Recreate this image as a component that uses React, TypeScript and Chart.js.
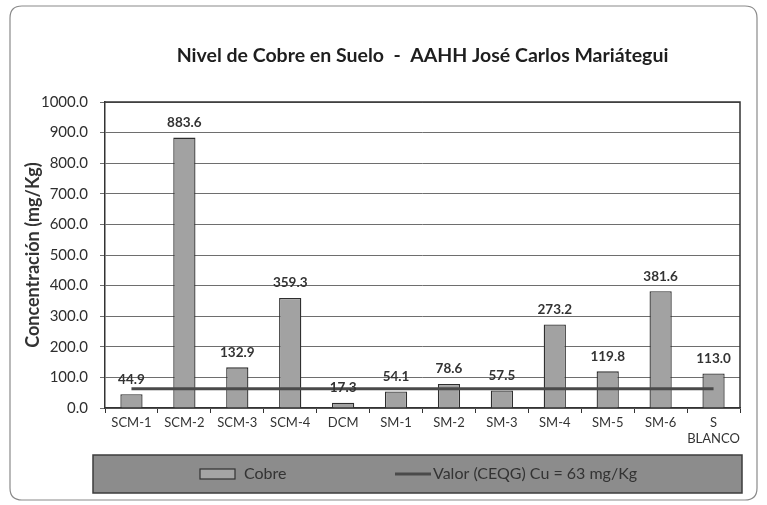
import React, { useEffect, useRef } from "react";
import { Chart, registerables } from "chart.js";

Chart.register(...registerables);

const title = "Nivel de Cobre en Suelo  -  AAHH José Carlos Mariátegui";
const categories: (string | string[])[] = [
  "SCM-1", "SCM-2", "SCM-3", "SCM-4", "DCM", "SM-1", "SM-2", "SM-3", "SM-4", "SM-5", "SM-6", ["S", "BLANCO"],
];
const cobre = [44.9, 883.6, 132.9, 359.3, 17.3, 54.1, 78.6, 57.5, 273.2, 119.8, 381.6, 113.0];
const ceqg = [63, 63, 63, 63, 63, 63, 63, 63, 63, 63, 63, 63];
const yTicks = [0, 100, 200, 300, 400, 500, 600, 700, 800, 900, 1000];

const FONT = "Lato, 'Open Sans', sans-serif";

const framePlugin = {
  id: "frame",
  beforeDraw(chart: any) {
    const ctx = chart.ctx;
    ctx.save();
    ctx.fillStyle = "#ffffff";
    ctx.fillRect(0, 0, chart.width, chart.height);
    ctx.strokeStyle = "#8a8a8a";
    ctx.lineWidth = 1.2;
    const x = 10, y = 6, w = 747, h = 494, r = 12;
    ctx.beginPath();
    ctx.moveTo(x + r, y);
    ctx.lineTo(x + w - r, y);
    ctx.quadraticCurveTo(x + w, y, x + w, y + r);
    ctx.lineTo(x + w, y + h - r);
    ctx.quadraticCurveTo(x + w, y + h, x + w - r, y + h);
    ctx.lineTo(x + r, y + h);
    ctx.quadraticCurveTo(x, y + h, x, y + h - r);
    ctx.lineTo(x, y + r);
    ctx.quadraticCurveTo(x, y, x + r, y);
    ctx.stroke();
    ctx.restore();
  },
  afterDraw(chart: any) {
    const ctx = chart.ctx;
    const ca = chart.chartArea;
    ctx.save();
    ctx.strokeStyle = "#333333";
    ctx.lineWidth = 1.5;
    ctx.beginPath();
    ctx.moveTo(ca.left, ca.top);
    ctx.lineTo(ca.right, ca.top);
    ctx.lineTo(ca.right, ca.bottom);
    ctx.stroke();

    // title centred over the plot area
    ctx.font = `bold 19.5px ${FONT}`;
    ctx.fillStyle = "#1e1e1e";
    ctx.textAlign = "center";
    ctx.textBaseline = "alphabetic";
    ctx.fillText(title, (ca.left + ca.right) / 2, 62);

    // custom legend
    const lx = ca.left - 12, lw = ca.right + 2 - lx;
    const ly = chart.height - 50, lh = 38;
    ctx.fillStyle = "#8c8c8c";
    ctx.fillRect(lx, ly, lw, lh);
    ctx.strokeStyle = "#3c3c3c";
    ctx.lineWidth = 1.5;
    ctx.strokeRect(lx, ly, lw, lh);

    const cy = ly + lh / 2;
    const ds = chart.data.datasets;
    ctx.font = `16px ${FONT}`;
    ctx.textBaseline = "middle";
    ctx.textAlign = "left";
    ctx.fillStyle = "#a4a4a4";
    ctx.fillRect(200, cy - 5, 35, 10);
    ctx.strokeStyle = "#333333";
    ctx.lineWidth = 1.2;
    ctx.strokeRect(200, cy - 5, 35, 10);
    ctx.fillStyle = "#333333";
    ctx.fillText(ds[0].label, 244, cy);
    ctx.strokeStyle = "#4a4a4a";
    ctx.lineWidth = 3;
    ctx.beginPath();
    ctx.moveTo(395, cy);
    ctx.lineTo(431, cy);
    ctx.stroke();
    ctx.fillText(ds[1].label, 433, cy);
    ctx.restore();
  },
};

const labelPlugin = {
  id: "barLabels",
  afterDatasetsDraw(chart: any) {
    const ctx = chart.ctx;
    const meta = chart.getDatasetMeta(0);
    ctx.save();
    ctx.font = `bold 13.5px ${FONT}`;
    ctx.fillStyle = "#333333";
    ctx.textAlign = "center";
    ctx.textBaseline = "middle";
    meta.data.forEach((el: any, i: number) => {
      ctx.fillText(cobre[i].toFixed(1), el.x, el.y - 15);
    });
    ctx.restore();
  },
};

export default function App() {
  const ref = useRef<HTMLCanvasElement | null>(null);
  useEffect(() => {
    if (!ref.current) return;
    const chart = new Chart(ref.current, {
      type: "bar",
      data: {
        labels: categories,
        datasets: [
          {
            type: "bar",
            label: "Cobre",
            data: cobre,
            backgroundColor: "#a2a2a2",
            borderColor: "#2e2e2e",
            borderWidth: 1.3,
            barPercentage: 0.42,
            categoryPercentage: 1,
            order: 2,
          },
          {
            type: "line",
            label: "Valor (CEQG) Cu = 63 mg/Kg",
            data: ceqg,
            borderColor: "#4a4a4a",
            borderWidth: 3,
            pointRadius: 0,
            fill: false,
            order: 1,
          } as any,
        ],
      },
      options: {
        responsive: false,
        animation: false,
        layout: { padding: { left: 12, right: 27, top: 102, bottom: 50 } },
        plugins: {
          legend: { display: false },
          tooltip: { enabled: false },
          title: { display: false },
        },
        scales: {
          x: {
            offset: true,
            grid: { display: true, drawOnChartArea: false, drawTicks: true, tickLength: 5, color: "#333333", offset: true },
            border: { display: true, color: "#333333", width: 1.5 },
            ticks: { color: "#333333", font: { family: FONT, size: 13 }, padding: 2, maxRotation: 0, autoSkip: false },
            afterFit: (s: any) => { s.height = 47; },
          },
          y: {
            min: 0,
            max: 1000,
            afterBuildTicks: (s: any) => { s.ticks = yTicks.map((v) => ({ value: v })); },
            grid: { color: "#6e6e6e", lineWidth: 1, tickLength: 5 },
            border: { display: true, color: "#333333", width: 1.5 },
            ticks: {
              color: "#2e2e2e",
              font: { family: FONT, size: 15 },
              padding: 12,
              callback: (v: any) => Number(v).toFixed(1),
            },
            title: {
              display: true,
              text: "Concentración (mg/Kg)",
              color: "#333333",
              font: { family: FONT, size: 18, weight: "bold" },
              padding: { top: 10, bottom: 0 },
            },
            afterFit: (s: any) => { s.width = 93; },
          },
        },
      },
      plugins: [framePlugin, labelPlugin],
    });
    return () => chart.destroy();
  }, []);
  return (
    <div style={{ position: "absolute", left: 0, top: 0, width: 767, height: 505 }}>
      <canvas ref={ref} width={767} height={505} style={{ display: "block" }} />
    </div>
  );
}
